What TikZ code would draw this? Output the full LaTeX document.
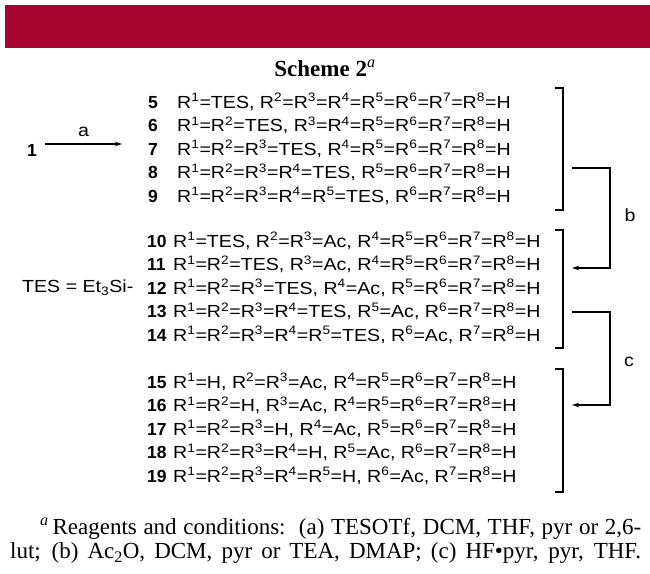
\documentclass[tikz,border=0pt]{standalone}
\usepackage{fontspec}
\setmainfont{Liberation Serif}
\newfontfamily\arial{Liberation Sans}
\usetikzlibrary{arrows.meta}
\definecolor{barred}{HTML}{A80532}
\newcommand\Rx[1]{R\textsuperscript{#1}}
\newcommand\wide[1]{\scalebox{1.12}[1]{#1}}
\begin{document}
\begin{tikzpicture}[x=1pt,y=-1pt,
  row/.style={anchor=base west, inner sep=0pt, font=\arial\fontsize{17.5}{20}\selectfont},
  num/.style={anchor=base west, inner sep=0pt, font=\arial\bfseries\fontsize{17.5}{20}\selectfont},
  lbl/.style={inner sep=0pt, font=\arial\fontsize{17.5}{20}\selectfont},
  brk/.style={line width=1.2pt},
  arr/.style={line width=1.2pt,-{Stealth[length=7pt,width=4.5pt]}}]
\useasboundingbox (0,0) rectangle (650,573);
\fill[barred] (5,5) rectangle (650,48);
\node[font=\fontsize{23}{26}\selectfont\bfseries] (title) at (325,68) {Scheme 2\textsuperscript{\normalfont\itshape a}};

% group 1
\node[num] (n5) at (148,108) {5};
\node[row] (r5) at (177,108) {\wide{\Rx1=TES, \Rx2=\Rx3=\Rx4=\Rx5=\Rx6=\Rx7=\Rx8=H}};
\node[num] (n6) at (148,131.5) {6};
\node[row] (r6) at (177,131.5) {\wide{\Rx1=\Rx2=TES, \Rx3=\Rx4=\Rx5=\Rx6=\Rx7=\Rx8=H}};
\node[num] (n7) at (148,155) {7};
\node[row] (r7) at (177,155) {\wide{\Rx1=\Rx2=\Rx3=TES, \Rx4=\Rx5=\Rx6=\Rx7=\Rx8=H}};
\node[num] (n8) at (148,178.5) {8};
\node[row] (r8) at (177,178.5) {\wide{\Rx1=\Rx2=\Rx3=\Rx4=TES, \Rx5=\Rx6=\Rx7=\Rx8=H}};
\node[num] (n9) at (148,202) {9};
\node[row] (r9) at (177,202) {\wide{\Rx1=\Rx2=\Rx3=\Rx4=\Rx5=TES, \Rx6=\Rx7=\Rx8=H}};
% group 2
\node[num] (n10) at (147,247) {10};
\node[row] (r10) at (173,247) {\wide{\Rx1=TES, \Rx2=\Rx3=Ac, \Rx4=\Rx5=\Rx6=\Rx7=\Rx8=H}};
\node[num] (n11) at (147,270.5) {11};
\node[row] (r11) at (173,270.5) {\wide{\Rx1=\Rx2=TES, \Rx3=Ac, \Rx4=\Rx5=\Rx6=\Rx7=\Rx8=H}};
\node[num] (n12) at (147,294) {12};
\node[row] (r12) at (173,294) {\wide{\Rx1=\Rx2=\Rx3=TES, \Rx4=Ac, \Rx5=\Rx6=\Rx7=\Rx8=H}};
\node[num] (n13) at (147,317.5) {13};
\node[row] (r13) at (173,317.5) {\wide{\Rx1=\Rx2=\Rx3=\Rx4=TES, \Rx5=Ac, \Rx6=\Rx7=\Rx8=H}};
\node[num] (n14) at (147,341) {14};
\node[row] (r14) at (173,341) {\wide{\Rx1=\Rx2=\Rx3=\Rx4=\Rx5=TES, \Rx6=Ac, \Rx7=\Rx8=H}};
% group 3
\node[num] (n15) at (147,388) {15};
\node[row] (r15) at (173,388) {\wide{\Rx1=H, \Rx2=\Rx3=Ac, \Rx4=\Rx5=\Rx6=\Rx7=\Rx8=H}};
\node[num] (n16) at (147,411.5) {16};
\node[row] (r16) at (173,411.5) {\wide{\Rx1=\Rx2=H, \Rx3=Ac, \Rx4=\Rx5=\Rx6=\Rx7=\Rx8=H}};
\node[num] (n17) at (147,435) {17};
\node[row] (r17) at (173,435) {\wide{\Rx1=\Rx2=\Rx3=H, \Rx4=Ac, \Rx5=\Rx6=\Rx7=\Rx8=H}};
\node[num] (n18) at (147,458.5) {18};
\node[row] (r18) at (173,458.5) {\wide{\Rx1=\Rx2=\Rx3=\Rx4=H, \Rx5=Ac, \Rx6=\Rx7=\Rx8=H}};
\node[num] (n19) at (147,482) {19};
\node[row] (r19) at (173,482) {\wide{\Rx1=\Rx2=\Rx3=\Rx4=\Rx5=H, \Rx6=Ac, \Rx7=\Rx8=H}};

% left side
\node[lbl, font=\arial\bfseries\fontsize{17.5}{20}\selectfont] (one) at (32,150) {1};
\coordinate (as) at (45,144);
\coordinate (ae) at (122,144);
\draw[arr] (as) -- (ae) node[midway, above=7pt, lbl] (alabel) {\wide{a}};
\node[lbl, anchor=west] (tes) at (22,288) {\wide{TES = Et\textsubscript{3}Si-}};

% brackets
\draw[brk] (555,88) -- (563,88) -- (563,210) -- (555,210);
\draw[brk] (555,230) -- (563,230) -- (563,348) -- (555,348);
\draw[brk] (555,369) -- (563,369) -- (563,492) -- (555,492);

% arrows b and c
\coordinate (bs) at (572,168);
\coordinate (be) at (572,268);
\draw[arr] (bs) -- (610,168) |- (be);
\node[lbl] (blabel) at (630,215) {\wide{b}};
\coordinate (cs) at (572,312);
\coordinate (ce) at (572,405);
\draw[arr] (cs) -- (610,312) |- (ce);
\node[lbl] (clabel) at (629,362) {\wide{c}};

% footnote
\node[anchor=north west, inner sep=0pt, font=\fontsize{23}{24}\selectfont] (foot) at (10,518)
 {\parbox{631pt}{\parindent=30pt\parfillskip=0pt\indent\textsuperscript{\itshape a}\,Reagents and conditions:\ \ (a) TESOTf, DCM, THF, pyr or 2,6-\linebreak lut; (b) Ac\textsubscript{2}O, DCM, pyr or TEA, DMAP; (c) HF\textbullet pyr, pyr, THF.}};
\end{tikzpicture}
\end{document}
